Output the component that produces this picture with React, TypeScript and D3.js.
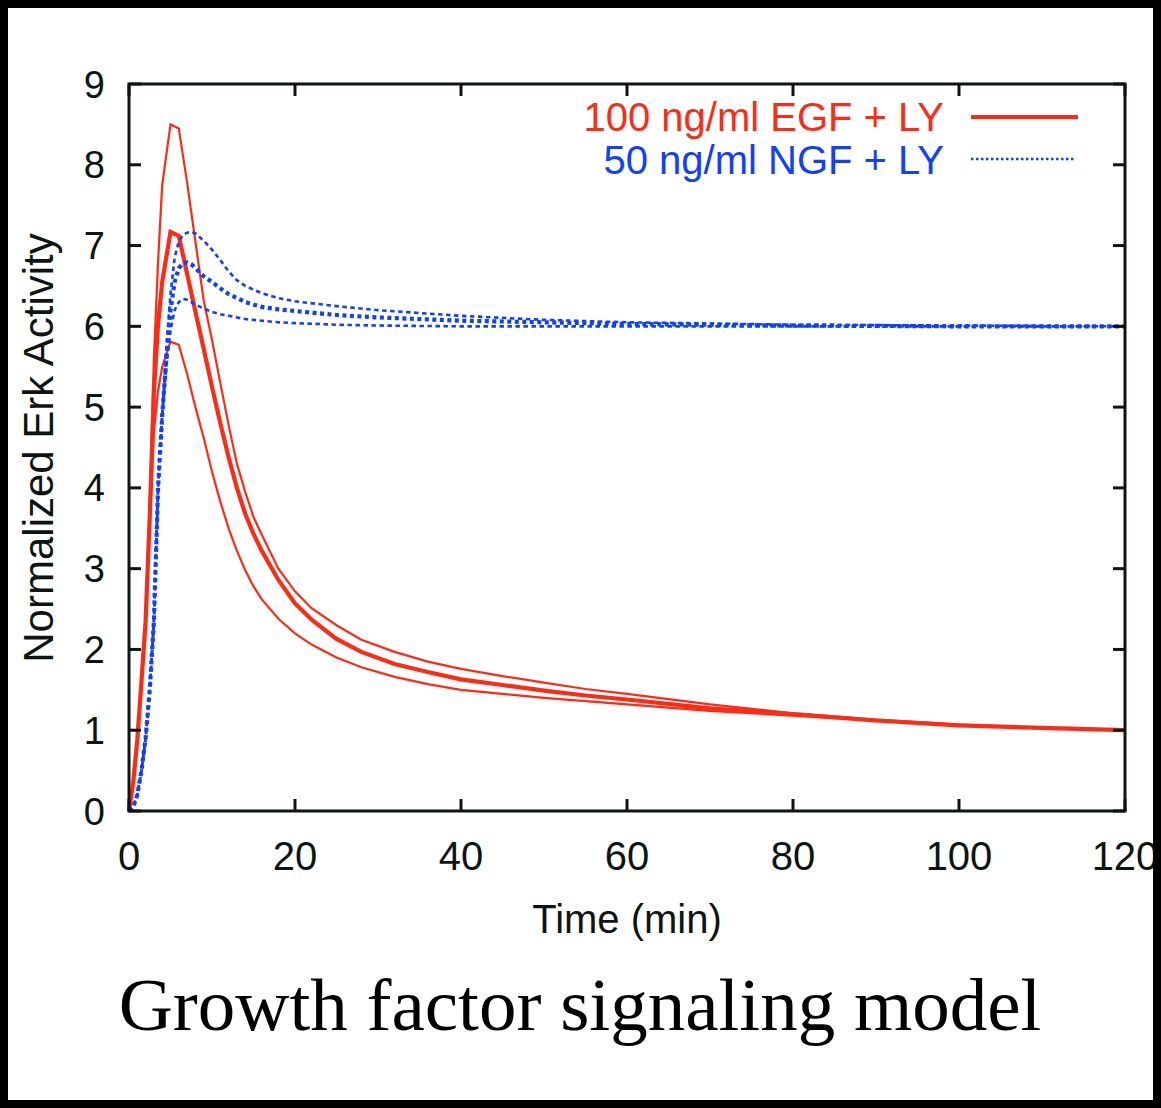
import React from "react";
import * as d3 from "d3";

// ---- data ----
const redTimes = [0, 0.5, 1, 1.5, 2, 2.5, 3, 3.5, 4, 5, 6, 7, 8, 9, 10, 11, 12, 13, 14, 15, 16, 18, 20, 22, 25, 28, 32, 36, 40, 45, 50, 55, 60, 70, 80, 90, 100, 110, 120];
const egfHigh = [0, 0.35, 0.9, 1.65, 2.4, 3.75, 5.6, 6.8, 7.75, 8.5, 8.45, 7.78, 7.05, 6.32, 5.83, 5.3, 4.78, 4.3, 3.95, 3.64, 3.42, 3.0, 2.72, 2.51, 2.3, 2.12, 1.97, 1.85, 1.76, 1.67, 1.59, 1.51, 1.45, 1.32, 1.21, 1.13, 1.07, 1.03, 1.0];
const egfMid = [0, 0.35, 0.88, 1.6, 2.35, 3.65, 5.2, 6.02, 6.55, 7.17, 7.12, 6.65, 6.18, 5.72, 5.25, 4.8, 4.38, 4.0, 3.68, 3.43, 3.22, 2.86, 2.57, 2.37, 2.13, 1.97, 1.82, 1.72, 1.63, 1.56, 1.49, 1.43, 1.38, 1.27, 1.2, 1.12, 1.06, 1.03, 1.0];
const egfLow = [0, 0.33, 0.85, 1.55, 2.3, 3.5, 4.7, 5.2, 5.5, 5.81, 5.77, 5.41, 5.0, 4.62, 4.2, 3.83, 3.5, 3.22, 2.98, 2.78, 2.62, 2.38, 2.2, 2.06, 1.9, 1.78, 1.66, 1.57, 1.5, 1.45, 1.4, 1.36, 1.32, 1.24, 1.18, 1.12, 1.06, 1.03, 1.0];

const blueTimes = [0, 0.5, 1, 1.5, 2, 2.5, 3, 3.5, 4, 4.5, 5, 5.5, 6, 6.5, 7, 7.5, 8, 9, 10, 11, 12, 13, 14, 16, 18, 20, 25, 30, 40, 50, 60, 80, 100, 120];
const ngfHigh = [0, 0.05, 0.2, 0.5, 0.9, 1.5, 2.35, 4.0, 4.9, 5.75, 6.4, 6.85, 7.05, 7.13, 7.16, 7.17, 7.15, 7.06, 6.95, 6.82, 6.68, 6.57, 6.5, 6.41, 6.35, 6.31, 6.25, 6.2, 6.13, 6.08, 6.05, 6.02, 6.01, 6.0];
const ngfMid = [0, 0.05, 0.2, 0.5, 0.9, 1.5, 2.35, 4.0, 4.9, 5.6, 6.2, 6.55, 6.72, 6.78, 6.79, 6.77, 6.72, 6.62, 6.55, 6.47, 6.4, 6.35, 6.3, 6.24, 6.21, 6.19, 6.14, 6.11, 6.07, 6.05, 6.03, 6.01, 6.0, 6.0];
const ngfLow = [0, 0.05, 0.2, 0.5, 0.9, 1.5, 2.35, 4.0, 4.9, 5.5, 5.95, 6.2, 6.3, 6.34, 6.33, 6.3, 6.27, 6.22, 6.18, 6.15, 6.13, 6.11, 6.09, 6.07, 6.05, 6.04, 6.02, 6.01, 6.0, 6.0, 6.0, 6.0, 6.0, 6.0];

const xTicks = [0, 20, 40, 60, 80, 100, 120];
const yTicks = [0, 1, 2, 3, 4, 5, 6, 7, 8, 9];
const legendLabels = ["100 ng/ml EGF + LY", "50 ng/ml NGF + LY"];
const xTitle = "Time (min)";
const yTitle = "Normalized Erk Activity";
const caption = "Growth factor signaling model";

const RED = "#ff2a14";
const BLUE = "#1040ff";
const INK = "#0d1414";
const SANS = "'Liberation Sans', Arial, Helvetica, sans-serif";
const SERIF = "'Liberation Serif', 'Times New Roman', serif";

export default function App() {
  const W = 1161, H = 1108;
  const x = d3.scaleLinear().domain([0, 120]).range([129, 1125]);
  const y = d3.scaleLinear().domain([0, 9]).range([811, 84]);
  const line = d3.line<[number, number]>().x(d => x(d[0])).y(d => y(d[1])).curve(d3.curveLinear);
  const mk = (ts: number[], vs: number[]) => ts.map((t, i) => [t, vs[i]] as [number, number]);

  const reds = [
    { v: egfLow, w: 2.2 },
    { v: egfHigh, w: 2.2 },
    { v: egfMid, w: 4.2 },
  ];
  const blues = [
    { v: ngfLow, w: 2.6, dash: "4.5 3.5" },
    { v: ngfHigh, w: 2.6, dash: "4.5 3.5" },
    { v: ngfMid, w: 4.2, dash: "4 3.5" },
  ];
  const [x0, x1] = x.range();
  const [yb, yt] = y.range();
  const tl = 12;

  return (
    <svg width={W} height={H} style={{ position: "absolute", left: 0, top: 0, background: "#fff" }}>
      <rect x={0} y={0} width={W} height={H} fill="#fff" />
      {/* curves */}
      {reds.map((r, i) => (
        <path key={"r" + i} d={line(mk(redTimes, r.v)) || ""} fill="none" stroke={RED} strokeWidth={r.w} strokeLinejoin="miter" />
      ))}
      {blues.map((b, i) => (
        <path key={"b" + i} d={line(mk(blueTimes, b.v)) || ""} fill="none" stroke={BLUE} strokeWidth={b.w} strokeDasharray={b.dash} />
      ))}
      {/* frame */}
      <rect x={x0} y={yt} width={x1 - x0} height={yb - yt} fill="none" stroke={INK} strokeWidth={3} />
      {xTicks.map(t => (
        <g key={"xt" + t}>
          <line x1={x(t)} x2={x(t)} y1={yb} y2={yb - tl} stroke={INK} strokeWidth={3} />
          <line x1={x(t)} x2={x(t)} y1={yt} y2={yt + tl} stroke={INK} strokeWidth={3} />
          <text x={x(t)} y={870} textAnchor="middle" fontFamily={SANS} fontSize={40} fill={INK}>{t}</text>
        </g>
      ))}
      {yTicks.map(t => (
        <g key={"yt" + t}>
          <line x1={x0} x2={x0 + tl} y1={y(t)} y2={y(t)} stroke={INK} strokeWidth={3} />
          <line x1={x1} x2={x1 - tl} y1={y(t)} y2={y(t)} stroke={INK} strokeWidth={3} />
          <text x={105} y={y(t) + 13.5} textAnchor="end" fontFamily={SANS} fontSize={38} fill={INK}>{t}</text>
        </g>
      ))}
      {/* legend */}
      <text x={944} y={131} textAnchor="end" fontFamily={SANS} fontSize={40} fill={RED}>{legendLabels[0]}</text>
      <line x1={971} x2={1078} y1={117} y2={117} stroke={RED} strokeWidth={4} />
      <text x={944} y={174} textAnchor="end" fontFamily={SANS} fontSize={40} fill={BLUE}>{legendLabels[1]}</text>
      <line x1={971} x2={1076} y1={159} y2={159} stroke={BLUE} strokeWidth={2.6} strokeDasharray="2.5 2.5" />
      {/* axis titles */}
      <text x={627} y={933} textAnchor="middle" fontFamily={SANS} fontSize={40} fill={INK}>{xTitle}</text>
      <text transform="translate(53,448) rotate(-90)" textAnchor="middle" fontFamily={SANS} fontSize={42} fill={INK}>{yTitle}</text>
      {/* caption */}
      <text x={580} y={1030} textAnchor="middle" fontFamily={SERIF} fontSize={75} fill="#000">{caption}</text>
      {/* outer border */}
      <rect x={4} y={4} width={W - 8} height={H - 8} fill="none" stroke="#000" strokeWidth={8} />
    </svg>
  );
}
